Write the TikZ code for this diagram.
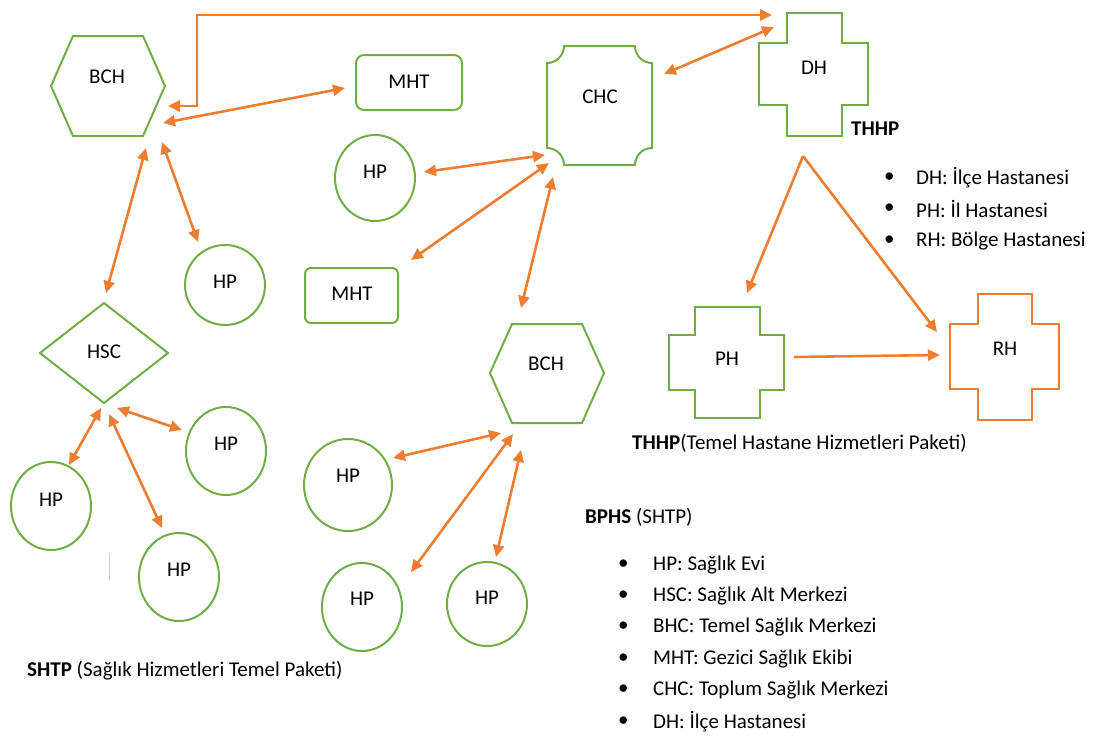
\documentclass[tikz,border=0pt]{standalone}
\usepackage{fontspec}
\setmainfont{Carlito}
\usetikzlibrary{arrows.meta}
\definecolor{orng}{HTML}{ED7D31}
\definecolor{grn}{HTML}{70AD47}
\tikzset{
  tip/.tip={Triangle[length=12pt,width=11pt]},
  arr/.style={draw=orng, line width=2.6pt, -tip},
  darr/.style={draw=orng, line width=2.6pt, tip-tip},
  gshape/.style={draw=grn, line width=2pt},
  oshape/.style={draw=orng, line width=2pt},
  lbl/.style={font=\fontsize{21}{25}\selectfont, inner sep=0pt},
  txt/.style={lbl, anchor=west},
}
\begin{document}
\begin{tikzpicture}[x=1pt,y=-1pt]
\useasboundingbox (0,0) rectangle (1095,736);
% ---------- shapes ----------
% BCH top
\draw[gshape] (51,86) -- (73,36) -- (143,36) -- (165,86) -- (143,136) -- (73,136) -- cycle;
% MHT top
\draw[gshape, rounded corners=8pt] (356,55) rectangle (462,110);
% HP top mid
\draw[gshape] (375,178) ellipse [x radius=40, y radius=43];
% HP below BCH
\draw[gshape] (225,285) ellipse [x radius=40, y radius=40];
% MHT lower
\draw[gshape, rounded corners=6pt] (305,268) rectangle (398,323);
% CHC plaque (y axis points down)
\draw[gshape] (564,46) -- (635,46) arc[start angle=180, end angle=90, radius=17] -- (652,148)
  arc[start angle=270, end angle=180, radius=17] -- (564,165)
  arc[start angle=0, end angle=-90, radius=17] -- (547,63)
  arc[start angle=90, end angle=0, radius=17] -- cycle;
% DH cross
\draw[gshape] (787,13) -- (842,13) -- (842,43) -- (868,43) -- (868,105) -- (842,105) -- (842,136)
  -- (787,136) -- (787,105) -- (759,105) -- (759,43) -- (787,43) -- cycle;
% HSC diamond
\draw[gshape] (40,353) -- (104,303) -- (168,353) -- (104,403) -- cycle;
% HP around HSC
\draw[gshape] (51,506) ellipse [x radius=40, y radius=44];
\draw[gshape] (226,451) ellipse [x radius=40, y radius=44];
\draw[gshape] (179,577) ellipse [x radius=40, y radius=44];
% BCH lower
\draw[gshape] (490,373) -- (512,324) -- (582,324) -- (604,373) -- (582,423) -- (512,423) -- cycle;
% HP around BCH lower
\draw[gshape] (348,485) ellipse [x radius=44, y radius=46];
\draw[gshape] (362,607) ellipse [x radius=40, y radius=44];
\draw[gshape] (487,604) ellipse [x radius=40, y radius=42];
% PH cross
\draw[gshape] (695,307) -- (760,307) -- (760,335) -- (784,335) -- (784,390) -- (760,390) -- (760,418)
  -- (695,418) -- (695,390) -- (669,390) -- (669,335) -- (695,335) -- cycle;
% RH cross
\draw[oshape] (978,294) -- (1032,294) -- (1032,324) -- (1059,324) -- (1059,389) -- (1032,389) -- (1032,420)
  -- (978,420) -- (978,389) -- (950,389) -- (950,324) -- (978,324) -- cycle;
% small grey mark
\draw[gray!40, line width=0.8pt] (109,553) -- (109,580);
% ---------- labels ----------
\node[lbl] (bch1) at (107,77) {BCH};
\node[lbl] (mht1) at (409,82) {MHT};
\node[lbl] (hp1) at (375,172) {HP};
\node[lbl] (hp2) at (225,282) {HP};
\node[lbl] (mht2) at (352,294) {MHT};
\node[lbl] (chc) at (600,97) {CHC};
\node[lbl] (dh) at (814,68) {DH};
\node[lbl] (hsc) at (104,352) {HSC};
\node[lbl] (hp3) at (51,500) {HP};
\node[lbl] (hp4) at (226,444) {HP};
\node[lbl] (hp5) at (179,570) {HP};
\node[lbl] (bch2) at (546,364) {BCH};
\node[lbl] (hp6) at (348,476) {HP};
\node[lbl] (hp7) at (362,599) {HP};
\node[lbl] (hp8) at (487,598) {HP};
\node[lbl] (ph) at (727,359) {PH};
\node[lbl] (rh) at (1005,349) {RH};
% ---------- texts ----------
\node[txt] (thhp) at (851,129) {\textbf{THHP}};
\node[txt] (b1) at (884,178) {•};
\node[txt] (t1) at (916,178) {DH: İlçe Hastanesi};
\node[txt] (b2) at (884,209) {•};
\node[txt] (t2) at (916,209) {PH: İl Hastanesi};
\node[txt] (b3) at (884,241) {•};
\node[txt] (t3) at (916,241) {RH: Bölge Hastanesi};
\node[txt] (thhpfull) at (632,443) {\textbf{THHP}(Temel Hastane Hizmetleri Paketi)};
\node[txt] (bphs) at (585,517) {\textbf{BPHS} (SHTP)};
\node[txt] (c1) at (618,565) {•};
\node[txt] (d1) at (653,565) {HP: Sağlık Evi};
\node[txt] (c2) at (618,596) {•};
\node[txt] (d2) at (653,596) {HSC: Sağlık Alt Merkezi};
\node[txt] (c3) at (618,627) {•};
\node[txt] (d3) at (653,627) {BHC: Temel Sağlık Merkezi};
\node[txt] (c4) at (618,659) {•};
\node[txt] (d4) at (653,659) {MHT: Gezici Sağlık Ekibi};
\node[txt] (c5) at (618,690) {•};
\node[txt] (d5) at (653,690) {CHC: Toplum Sağlık Merkezi};
\node[txt] (c6) at (618,722) {•};
\node[txt] (d6) at (653,722) {DH: İlçe Hastanesi};
\node[txt] (shtp) at (27,671) {\textbf{SHTP} (Sağlık Hizmetleri Temel Paketi)};
% ---------- connector end points ----------
\coordinate (e1a) at (168,106); \coordinate (e1b) at (772,15);
\coordinate (e2a) at (163,123); \coordinate (e2b) at (345,88);
\coordinate (e3a) at (146,148); \coordinate (e3b) at (106,293);
\coordinate (e4a) at (162,142); \coordinate (e4b) at (198,242);
\coordinate (e5a) at (424,172); \coordinate (e5b) at (545,155);
\coordinate (e6a) at (411,260); \coordinate (e6b) at (549,163);
\coordinate (e7a) at (553,177); \coordinate (e7b) at (521,308);
\coordinate (e8a) at (664,74);  \coordinate (e8b) at (774,27);
\coordinate (dhb) at (803,156);
\coordinate (e9b) at (747,293);
\coordinate (e10b) at (937,332);
\coordinate (e11a) at (794,357); \coordinate (e11b) at (940,355);
\coordinate (e12a) at (101,408); \coordinate (e12b) at (69,465);
\coordinate (e13a) at (117,408); \coordinate (e13b) at (182,430);
\coordinate (e14a) at (109,414); \coordinate (e14b) at (162,528);
\coordinate (e15a) at (501,433); \coordinate (e15b) at (393,458);
\coordinate (e16a) at (513,434); \coordinate (e16b) at (411,572);
\coordinate (e17a) at (521,450); \coordinate (e17b) at (496,557);
% ---------- connectors ----------
\draw[darr] (e1a) -- (197,106) -- (197,15) -- (e1b);
\draw[darr] (e2a) -- (e2b);
\draw[darr] (e3a) -- (e3b);
\draw[darr] (e4a) -- (e4b);
\draw[darr] (e5a) -- (e5b);
\draw[darr] (e6a) -- (e6b);
\draw[darr] (e7a) -- (e7b);
\draw[darr] (e8a) -- (e8b);
\draw[arr] (dhb) -- (e9b);
\draw[arr] (dhb) -- (e10b);
\draw[arr] (e11a) -- (e11b);
\draw[darr] (e12a) -- (e12b);
\draw[darr] (e13a) -- (e13b);
\draw[darr] (e14a) -- (e14b);
\draw[darr] (e15a) -- (e15b);
\draw[darr] (e16a) -- (e16b);
\draw[darr] (e17a) -- (e17b);
\end{tikzpicture}
\end{document}
